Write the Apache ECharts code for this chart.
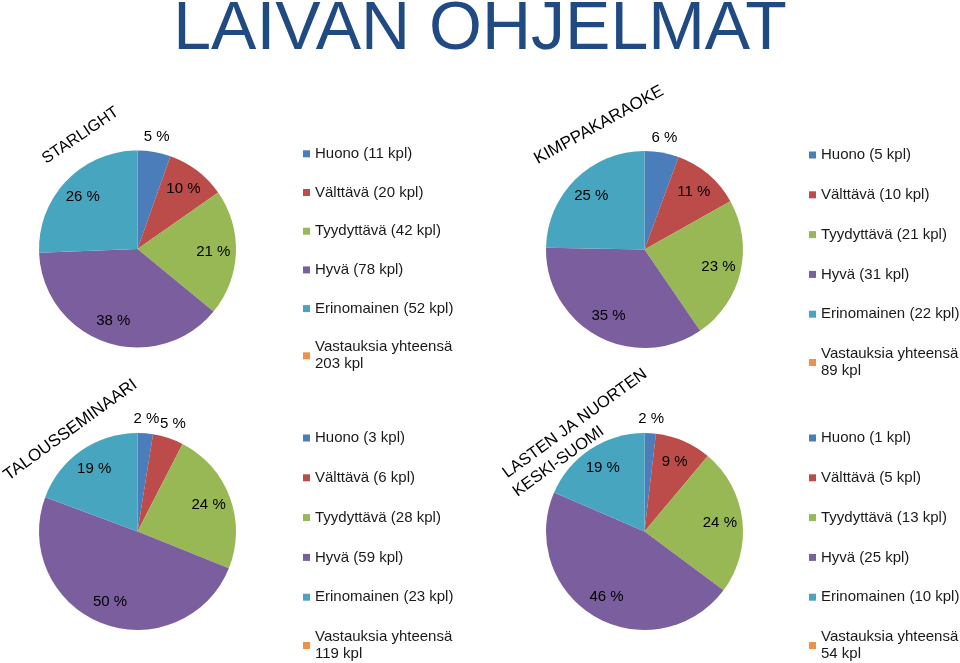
<!DOCTYPE html>
<html><head><meta charset="utf-8">
<script src="https://cdn.jsdelivr.net/npm/echarts@6/dist/echarts.min.js"></script>
<style>html,body{margin:0;padding:0;background:#fff}#c{width:960px;height:663px}</style>
</head><body><div id="c"></div>
<script>
// ---- data ----
const mainTitle = 'LAIVAN OHJELMAT';
const categories = ['Huono', 'Välttävä', 'Tyydyttävä', 'Hyvä', 'Erinomainen'];
const totalLabel = 'Vastauksia yhteensä';
const pieTitles = ['STARLIGHT', 'KIMPPAKARAOKE', 'TALOUSSEMINAARI', 'LASTEN JA NUORTEN\nKESKI-SUOMI'];
const starlight = [11, 20, 42, 78, 52];
const kimppakaraoke = [5, 10, 21, 31, 22];
const talousseminaari = [3, 6, 28, 59, 23];
const lastenJaNuorten = [1, 5, 13, 25, 10];
const pieValues = [starlight, kimppakaraoke, talousseminaari, lastenJaNuorten];

// ---- styling / layout ----
const FONT = '"Liberation Sans", Arial, sans-serif';
const colors = ['#4A7DBA', '#BC4C49', '#98B856', '#7A5E9D', '#48A5C0', '#F0904A'];
const R = 98.5;
const layouts = [
  { c: [137.5, 249], lx: 303, ly: 145.3, gap: 21.7,
    titles: [{ x: 80.5, y: 135.5, rot: 34, fs: 16 }] },
  { c: [644.5, 249.5], lx: 809, ly: 146.5, gap: 22.8,
    titles: [{ x: 599, y: 125, rot: 29, fs: 17 }] },
  { c: [137.5, 531.5], lx: 303, ly: 429.5, gap: 22.8,
    titles: [{ x: 70.5, y: 430, rot: 36, fs: 17 }] },
  { c: [644.5, 531.5], lx: 809, ly: 429.5, gap: 22.8,
    titles: [{ x: 575, y: 423.5, rot: 36, fs: 16.5 }, { x: 558.5, y: 461.5, rot: 36, fs: 16.5 }] }
];

const series = [], legends = [], graphics = [];

graphics.push({
  type: 'text', x: 480, y: 30,
  style: { text: mainTitle, font: '68px ' + FONT, fill: '#1F4A82', align: 'center', verticalAlign: 'middle' }
});

pieValues.forEach((values, i) => {
  const L = layouts[i];
  const total = values.reduce((a, b) => a + b, 0);
  const names = categories.concat([totalLabel]);
  const vals = values.concat([0]);

  // main visible pie
  series.push({
    type: 'pie', center: L.c, radius: [0, R], startAngle: 90, clockwise: true,
    animation: false, silent: true, avoidLabelOverlap: false,
    label: { show: false }, labelLine: { show: false },
    emphasis: { disabled: true },
    data: names.map((n, k) => ({ name: n, value: vals[k], itemStyle: { color: colors[k] } }))
  });

  const labelSeries = (radius, small) => ({
    type: 'pie', center: L.c, radius: radius, startAngle: 90, clockwise: true,
    animation: false, silent: true, avoidLabelOverlap: false, percentPrecision: 0,
    itemStyle: { color: 'rgba(0,0,0,0)' }, emphasis: { disabled: true },
    labelLine: { show: false },
    label: { show: true, position: 'inside', formatter: '{d} %', color: '#000',
             fontSize: 15, fontFamily: FONT },
    data: names.map((n, k) => {
      const share = vals[k] / total;
      const show = vals[k] > 0 && (small ? share < 0.07 : share >= 0.07);
      return { name: n, value: vals[k], label: { show: show } };
    })
  });
  series.push(labelSeries([R * 0.48, R], false));
  series.push(labelSeries([R, R * 1.24], true));

  legends.push({
    orient: 'vertical', left: L.lx, top: L.ly, height: 300, itemGap: L.gap, padding: 0,
    itemWidth: 7, itemHeight: 7, icon: 'rect', selectedMode: false,
    textStyle: { fontSize: 15, lineHeight: 17, color: '#1a1a1a', fontFamily: FONT },
    data: names,
    formatter: (name) => {
      const k = categories.indexOf(name);
      if (k >= 0) return name + ' (' + values[k] + ' kpl)';
      return name + '\n' + total + ' kpl';
    }
  });

  const lines = pieTitles[i].split('\n');
  lines.forEach((t, j) => {
    const p = L.titles[j];
    graphics.push({
      type: 'text', x: p.x, y: p.y, rotation: p.rot * Math.PI / 180,
      style: { text: t, font: p.fs + 'px ' + FONT, fill: '#000', align: 'center', verticalAlign: 'middle' }
    });
  });
});

const chart = echarts.init(document.getElementById('c'), null, { renderer: 'canvas' });
chart.setOption({
  animation: false,
  backgroundColor: '#fff',
  legend: legends,
  series: series,
  graphic: graphics
});
</script>
</body></html>
